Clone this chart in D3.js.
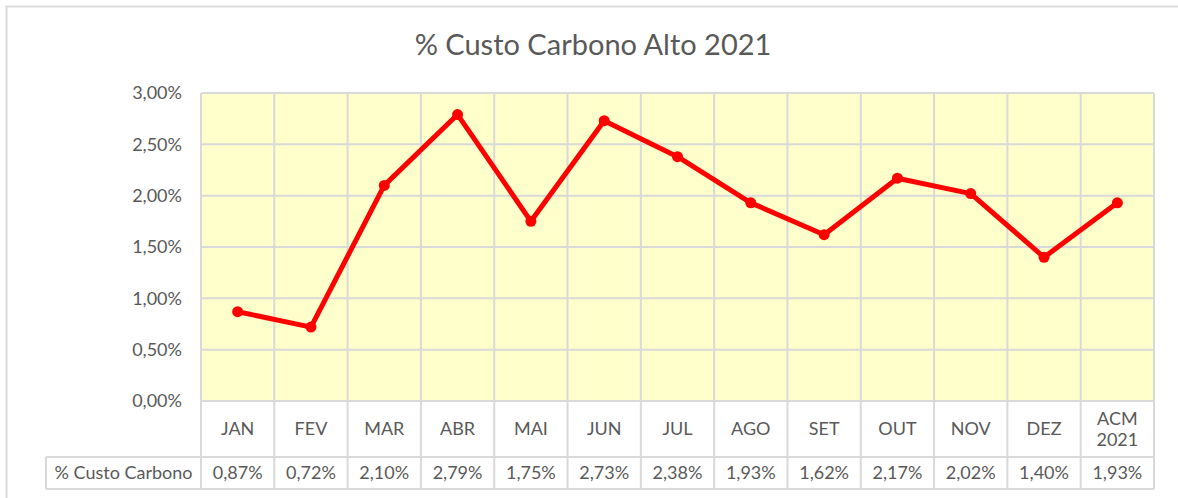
<!DOCTYPE html>
<html>
<head>
<meta charset="utf-8">
<script src="https://cdn.jsdelivr.net/npm/d3@7"></script>
<style>
  body { margin: 0; background: #fff; }
  text { font-family: Lato, "Open Sans", sans-serif; fill: #595959; }
</style>
</head>
<body>
<div id="chart"></div>
<script>
var months = ["JAN", "FEV", "MAR", "ABR", "MAI", "JUN", "JUL", "AGO", "SET", "OUT", "NOV", "DEZ", "ACM 2021"]
var custoCarbono = [0.0087, 0.0072, 0.0210, 0.0279, 0.0175, 0.0273, 0.0238, 0.0193, 0.0162, 0.0217, 0.0202, 0.0140, 0.0193]
var yTicks = [0, 0.005, 0.01, 0.015, 0.02, 0.025, 0.03]
var seriesName = "% Custo Carbono"
var chartTitle = "% Custo Carbono Alto 2021"

var width = 1178,
    height = 498
var plotLeft = 201, plotRight = 1154, plotTop = 93, plotBottom = 401
var catRow = 457, tableBottom = 489, tableLeft = 46
var grid = "#d9d9d9"

var br = d3.formatLocale({decimal: ",", thousands: ".", grouping: [3], currency: ["R$", ""]})
var pct = br.format(".2%")

var svg = d3.select("#chart")
            .append("svg")
            .attr("width", width)
            .attr("height", height)

// outer chart frame
svg.append("rect")
   .attr("x", 6.5).attr("y", 6.5)
   .attr("width", width).attr("height", height)
   .attr("fill", "#fff")
   .attr("stroke", grid)
   .attr("stroke-width", 2)

svg.append("text")
   .attr("x", 593).attr("y", 55)
   .attr("text-anchor", "middle")
   .attr("font-size", "29px")
   .text(chartTitle)

var x = d3.scaleBand()
          .domain(months)
          .range([plotLeft, plotRight])

var y = d3.scaleLinear()
          .domain([0, 0.03])
          .range([plotBottom, plotTop])

// plot background
svg.append("rect")
   .attr("x", plotLeft).attr("y", plotTop)
   .attr("width", plotRight - plotLeft).attr("height", plotBottom - plotTop)
   .attr("fill", "#ffffcc")

// horizontal gridlines
svg.append("g")
   .selectAll("line")
   .data(yTicks)
   .enter().append("line")
   .attr("x1", plotLeft).attr("x2", plotRight)
   .attr("y1", d => y(d)).attr("y2", d => y(d))
   .attr("stroke", grid)
   .attr("stroke-width", 2)

// vertical lines through plot, category row and table
var edges = months.map(d => x(d)).concat([plotRight])
svg.append("g")
   .selectAll("line")
   .data(edges)
   .enter().append("line")
   .attr("x1", d => d).attr("x2", d => d)
   .attr("y1", plotTop).attr("y2", tableBottom)
   .attr("stroke", grid)
   .attr("stroke-width", 2)

// table horizontal lines
svg.append("g")
   .selectAll("line")
   .data([catRow, tableBottom])
   .enter().append("line")
   .attr("x1", tableLeft).attr("x2", plotRight)
   .attr("y1", d => d).attr("y2", d => d)
   .attr("stroke", grid)
   .attr("stroke-width", 2)

svg.append("line")
   .attr("x1", tableLeft).attr("x2", tableLeft)
   .attr("y1", catRow).attr("y2", tableBottom)
   .attr("stroke", grid)
   .attr("stroke-width", 2)

// y tick labels
svg.append("g")
   .selectAll("text")
   .data(yTicks)
   .enter().append("text")
   .attr("x", plotLeft - 19)
   .attr("y", d => y(d))
   .attr("dy", "0.35em")
   .attr("text-anchor", "end")
   .attr("font-size", "18px")
   .text(d => pct(d))

// category labels
var cats = svg.append("g")
   .selectAll("text")
   .data(months)
   .enter().append("text")
   .attr("text-anchor", "middle")
   .attr("font-size", "18px")
   .attr("transform", d => "translate(" + (x(d) + x.bandwidth() / 2) + "," + (plotBottom + catRow) / 2 + ")")

cats.each(function(d) {
    var parts = d.split(" ")
    var t = d3.select(this)
    parts.forEach(function(p, i) {
        t.append("tspan")
         .attr("x", 0)
         .attr("dy", i == 0 ? (0.35 - (parts.length - 1) * 0.6) + "em" : "1.2em")
         .text(p)
    })
})

// data table
svg.append("text")
   .attr("x", (tableLeft + plotLeft) / 2)
   .attr("y", (catRow + tableBottom) / 2)
   .attr("dy", "0.35em")
   .attr("text-anchor", "middle")
   .attr("font-size", "18px")
   .text(seriesName)

svg.append("g")
   .selectAll("text")
   .data(custoCarbono)
   .enter().append("text")
   .attr("x", (d, i) => x(months[i]) + x.bandwidth() / 2)
   .attr("y", (catRow + tableBottom) / 2)
   .attr("dy", "0.35em")
   .attr("text-anchor", "middle")
   .attr("font-size", "18px")
   .text(d => pct(d))

// series line
var line = d3.line()
             .x((d, i) => x(months[i]) + x.bandwidth() / 2)
             .y(d => y(d))

svg.append("path")
   .datum(custoCarbono)
   .attr("d", line)
   .attr("fill", "none")
   .attr("stroke", "#ff0000")
   .attr("stroke-width", 5)
   .attr("stroke-linejoin", "round")

svg.append("g")
   .selectAll("circle")
   .data(custoCarbono)
   .enter().append("circle")
   .attr("cx", (d, i) => x(months[i]) + x.bandwidth() / 2)
   .attr("cy", d => y(d))
   .attr("r", 5.5)
   .attr("fill", "#ff0000")
</script>
</body>
</html>
